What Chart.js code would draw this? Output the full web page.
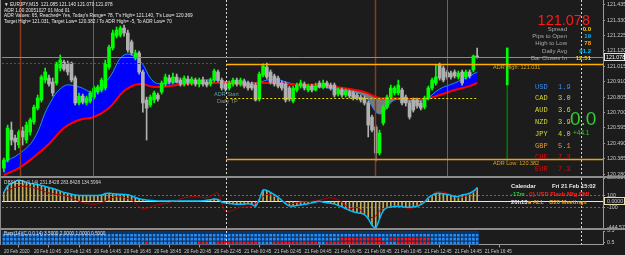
<!DOCTYPE html>
<html>
<head>
<meta charset="utf-8">
<script src="https://cdn.jsdelivr.net/npm/chart.js@4.4.1/dist/chart.umd.min.js"></script>
<style>
  body { margin: 0; background: #1c1c1c; }
  #wrap { position: relative; width: 625px; height: 255px; overflow: hidden; background: #1c1c1c; font-family: 'Liberation Sans', Arial, sans-serif; }
  canvas { position: absolute; left: 0; }
  .t { position: absolute; white-space: nowrap; line-height: 1; }
  .hdr { left: 4px; font-size: 4.7px; color: #e8e8e8; }
  .lbl { font-size: 6px; color: #a8a8a8; }
  .val { font-size: 6px; font-weight: bold; }
  .cur { font-family: 'Liberation Mono', monospace; font-size: 7px; }
  .cal { font-size: 5.8px; font-weight: bold; }
  .sep { position: absolute; left: 0; width: 625px; height: 2px; background: #8c8c8c; }
</style>
</head>
<body>
<div id="wrap">
  <canvas id="main" width="625" height="176" style="top:0"></canvas>
  <canvas id="osc" width="625" height="50" style="top:178px"></canvas>
  <canvas id="bars" width="625" height="25" style="top:230px"></canvas>
  <div class="sep" style="top:176px"></div>
  <div class="sep" style="top:228px"></div>
  <div style="position:absolute;left:0;top:0;width:1px;height:245px;background:#8c8c8c"></div>

  <div class="t hdr" style="top:3px">&#9660; EURJPY,M15&nbsp; 121.085 121.140 121.070 121.078</div>
  <div class="t hdr" style="top:8.5px">ADR 1.00 20051027 01 Mod 01</div>
  <div class="t hdr" style="top:14px">ADR Values: 65, Reached= Yes, Today's Range= 78, T's High= 121.140, T's Low= 120.369</div>
  <div class="t hdr" style="top:19.5px">Target High= 121.031, Target Low= 120.382 / To ADR High= -5, To ADR Low= 70</div>

  <div class="t" style="left:214px;top:92px;font-size:5.5px;color:#5aa0a8">ADR Start</div>
  <div class="t" style="left:217px;top:98.5px;font-size:5.5px;color:#8c8c8c">Daily TP</div>
  <div class="t" style="left:493px;top:65px;font-size:5.5px;color:#e0a020">ADR High: 121.031</div>
  <div class="t" style="left:493px;top:160.5px;font-size:5.5px;color:#e0a020">ADR Low: 120.382</div>

  <div class="t" style="right:35px;top:13px;font-size:14.5px;color:#ff1a1a">121.078</div>
  <div id="info"></div>
  <div id="strength"></div>
  <div class="t" style="left:570px;top:109px;font-size:19px;color:#32cd32">0.0</div>
  <div class="t" style="left:573px;top:130px;font-size:6.5px;color:#32cd32">+44.1</div>

  <div class="t" style="left:4px;top:181px;font-size:4.7px;color:#d0d0d0">DBS(CCI) (1,14) 231.8428 283.8428 134.5994</div>
  <div class="t cal" style="left:511px;top:184px;color:#e8e8e8">Calendar</div>
  <div class="t cal" style="left:552px;top:184px;color:#e8e8e8">Fri 21 Feb 15:02</div>
  <div class="t cal" style="left:511px;top:192px;color:#2ecc40">-17m</div>
  <div class="t cal" style="left:529px;top:192px;color:#ff2020">(!) USD Flash Mfg PMI</div>
  <div class="t cal" style="left:511px;top:200px;color:#e8e8e8">20h13</div>
  <div class="t cal" style="left:528px;top:200px;color:#f0a020">&#9632; ALL&nbsp;&nbsp; G20 Meetings</div>

  <div class="t" style="left:4px;top:232px;font-size:4.7px;color:#e0e0e0">Bars(14)(C,0,0,14) 3.5000 2.0000 1.0000 0.5000</div>
</div>

<script>
Chart.defaults.font.family = "'Liberation Sans', Arial, sans-serif";

// EURJPY M15 candles (bar 0 = 20 Feb 2020, last bar = 21 Feb afternoon)
var opens = [120.321,120.376,120.580,120.526,120.478,120.574,120.512,120.567,120.635,120.730,
  120.785,120.921,120.935,120.908,120.901,121.003,121.044,121.031,121.037,120.935,
  120.765,120.812,120.765,120.778,120.805,120.840,120.853,120.867,121.010,121.140,
  121.221,121.228,121.276,121.242,121.181,121.071,121.106,120.976,120.785,120.751,
  120.785,120.819,120.840,120.894,120.935,120.908,120.942,120.921,120.894,120.928,
  120.901,120.921,120.894,120.921,120.908,120.894,120.921,120.976,120.921,120.894,
  120.867,120.894,120.921,120.894,120.915,120.901,120.894,120.887,120.792,120.955,
  121.010,120.976,120.949,120.935,120.901,120.894,120.867,120.778,120.853,120.880,
  120.894,120.853,120.880,120.853,120.901,120.874,120.901,120.887,120.887,120.826,
  120.853,120.819,120.840,120.833,120.819,120.805,120.799,120.765,120.669,120.601,
  120.424,120.628,120.737,120.805,120.833,120.833,120.853,120.805,120.765,120.785,
  120.785,120.765,120.737,120.799,120.867,120.901,121.024,121.003,120.976,120.969,
  120.976,120.942,120.976,120.942,120.976,120.990,121.085];
var highs = [120.389,120.614,120.635,120.546,120.580,120.601,120.635,120.662,120.751,120.819,
  120.955,121.003,120.955,120.935,121.044,121.092,121.058,121.051,121.044,120.949,
  120.833,120.826,120.812,120.846,120.880,120.887,120.935,121.058,121.160,121.262,
  121.283,121.290,121.296,121.262,121.194,121.126,121.119,120.990,120.805,120.819,
  120.846,120.833,120.915,120.962,120.955,120.969,120.962,120.935,120.949,120.949,
  120.942,120.935,120.935,120.942,120.921,120.935,120.996,120.990,120.935,120.908,
  120.915,120.935,120.935,120.935,120.928,120.915,120.908,120.901,120.976,121.031,
  121.037,120.990,120.962,120.949,120.915,120.908,120.880,120.880,120.901,120.921,
  120.908,120.894,120.894,120.901,120.915,120.921,120.915,120.901,120.901,120.867,
  120.867,120.860,120.853,120.846,120.833,120.819,120.812,120.778,120.683,120.614,
  120.580,120.751,120.819,120.887,120.880,120.921,120.867,120.819,120.778,120.799,
  120.799,120.778,120.812,120.880,120.935,121.024,121.037,121.017,120.990,120.983,
  120.990,120.983,120.990,120.990,120.990,121.092,121.140];
var lows = [120.294,120.362,120.478,120.444,120.458,120.478,120.492,120.546,120.621,120.717,
  120.771,120.901,120.880,120.812,120.887,120.983,120.983,120.955,120.908,120.751,
  120.751,120.758,120.751,120.765,120.792,120.826,120.840,120.853,120.996,121.126,
  121.208,121.215,121.221,121.112,121.092,121.058,120.962,120.703,120.512,120.737,
  120.765,120.778,120.826,120.880,120.894,120.894,120.901,120.880,120.880,120.887,
  120.887,120.880,120.874,120.880,120.874,120.880,120.908,120.908,120.853,120.846,
  120.853,120.880,120.880,120.880,120.867,120.853,120.853,120.778,120.778,120.942,
  120.928,120.894,120.880,120.867,120.853,120.771,120.778,120.765,120.840,120.867,
  120.853,120.840,120.840,120.846,120.867,120.860,120.867,120.853,120.805,120.812,
  120.805,120.805,120.799,120.785,120.785,120.771,120.751,120.533,120.567,120.369,
  120.410,120.614,120.724,120.792,120.819,120.819,120.751,120.744,120.655,120.703,
  120.730,120.717,120.724,120.785,120.853,120.887,120.921,120.908,120.928,120.928,
  120.935,120.928,120.887,120.928,120.935,120.976,121.070];
var closes = [120.376,120.594,120.512,120.499,120.567,120.533,120.614,120.649,120.737,120.799,
  120.942,120.976,120.894,120.833,121.037,121.058,120.996,120.976,120.921,120.765,
  120.812,120.771,120.799,120.833,120.867,120.874,120.921,121.037,121.146,121.242,
  121.262,121.276,121.242,121.126,121.106,121.106,120.976,120.765,120.730,120.805,
  120.833,120.792,120.901,120.942,120.908,120.942,120.908,120.894,120.935,120.901,
  120.928,120.894,120.921,120.894,120.887,120.921,120.983,120.921,120.867,120.860,
  120.901,120.921,120.894,120.921,120.880,120.867,120.867,120.785,120.962,121.017,
  120.942,120.908,120.894,120.880,120.867,120.785,120.792,120.867,120.887,120.901,
  120.867,120.880,120.853,120.880,120.874,120.901,120.880,120.867,120.819,120.853,
  120.819,120.846,120.812,120.799,120.799,120.785,120.765,120.614,120.580,120.424,
  120.560,120.737,120.805,120.867,120.867,120.887,120.765,120.765,120.669,120.717,
  120.744,120.730,120.799,120.867,120.921,120.942,120.935,120.921,120.942,120.942,
  120.949,120.969,120.901,120.976,120.949,121.085,121.078];

// moving averages, read at every 4th bar
var maBars = [0,4,8,12,16,20,24,28,32,36,40,44,48,52,56,60,64,68,72,76,80,84,88,92,96,100,104,108,112,116,120,124,126];
var fastMA = [120.362,120.417,120.519,120.751,120.880,120.874,120.840,120.935,121.092,121.058,120.908,120.901,120.915,120.921,120.921,120.908,120.901,120.908,120.928,120.901,120.880,120.874,120.860,120.840,120.812,120.690,120.785,120.771,120.785,120.860,120.901,120.949,120.976];
var slowMA = [120.274,120.321,120.396,120.485,120.594,120.649,120.669,120.730,120.846,120.894,120.874,120.880,120.894,120.901,120.901,120.901,120.894,120.901,120.901,120.894,120.887,120.887,120.874,120.860,120.840,120.799,120.799,120.792,120.792,120.819,120.853,120.880,120.901];

var bid = 121.078, dayOpen = 120.888, dayHigh = 121.140, dayLow = 120.369;
var adrHigh = 121.031, adrLow = 120.382, adrStart = 120.799, prevLevel = 121.037;
var priceTicks = [121.435,121.330,121.225,121.120,121.015,120.910,120.805,120.700,120.595,120.490,120.385,120.280];

// oscillator sub-window
var cci = [150,257,300,330,350,340,320,300,290,280,
  265,250,230,215,195,170,150,135,120,105,
  98,97,97,97,96,97,105,130,135,125,
  121,118,115,112,90,65,42,30,20,15,
  10,5,5,4,6,5,3,5,6,4,
  5,5,6,8,18,28,38,30,-10,-25,
  -36,-42,-48,-50,-45,-40,-50,-80,30,190,
  182,150,110,70,15,-40,-75,-78,-68,-60,
  -50,-40,-25,-10,0,-10,-22,-32,-42,-70,
  -90,-120,-150,-172,-188,-200,-220,-290,-400,-444,
  -290,-160,-105,-95,-85,-80,-88,-98,-100,-92,
  -82,-55,-10,60,100,130,135,125,115,100,
  85,82,105,118,135,170,226];
var slowBars = [0,1,4,8,12,17,21,24,26,30,34,37,40,44,48,51,54,57,59,63,66,68,70,73,76,79,82,84,87,90,92,94,96,97,99,100,102,106,108,111,114,115,118,121,124,126];
var slowOsc = [115,180,250,226,138,80,-20,-50,-20,80,20,-127,-70,-20,60,80,60,138,-168,-100,-80,20,115,60,-38,-10,0,20,60,-10,-127,-100,-215,-274,-245,-156,-100,-80,-127,-38,97,160,138,60,115,198];
var oscTicks = [389.5172, 100, 0, -100, -444.5797];

// signal grid: runs of red cells per row (row 0 = bottom)
var redRuns = [
  [[38,38],[52,54],[57,67],[72,83],[86,101],[105,113]],
  [[90,100],[103,113]],
  []
];

var tickLabels = ['20 Feb 2020','20 Feb 10:45','20 Feb 12:45','20 Feb 14:45','20 Feb 16:45','20 Feb 18:45',
  '20 Feb 20:45','20 Feb 22:45','21 Feb 00:45','21 Feb 02:45','21 Feb 04:45','21 Feb 06:45',
  '21 Feb 08:45','21 Feb 10:45','21 Feb 12:45','21 Feb 14:45','21 Feb 16:45'];

var infoNames = ['Spread','Pips to Open','High to Low','Daily Avg','Bar Closes In'];
var infoValues = ['0.0','19','78','91.2','12:51'];
var currencies = ['USD','CAD','AUD','NZD','JPY','GBP','CHF','EUR'];
var strength = [1.9, 3.0, 3.6, 3.9, 4.0, 5.1, 7.3, 7.3];

// ---- layout constants
var nSlots = 160, rangeSlot = 134;
var slots = [];
for (var i = 0; i < nSlots; i++) slots.push(i);
var nBars = closes.length;
var vDashed = [59.2, 153.6];

// text panels
var infoColors = ['#ffd700','#00bfff','#ffa500','#00bfff','#ffd700'];
var info = document.getElementById('info');
infoNames.forEach(function (n, k) {
  var top = 26 + k * 7.2;
  info.innerHTML += '<div class="t lbl" style="right:58px;top:' + top + 'px">' + n + '</div>' +
    '<div class="t val" style="right:34px;top:' + top + 'px;color:' + infoColors[k] + '">' + infoValues[k] + '</div>';
});
var curColors = ['#3c8cf0','#d8d830','#d8d830','#d8d830','#d8d830','#e09a30','#d01010','#d01010'];
var st = document.getElementById('strength');
currencies.forEach(function (c, k) {
  var top = 83.5 + k * 11.8;
  st.innerHTML += '<div class="t cur" style="left:535px;top:' + top + 'px;color:' + curColors[k] + '">' + c + '</div>' +
    '<div class="t cur" style="left:558px;top:' + top + 'px;color:' + curColors[k] + '">' + strength[k].toFixed(1) + '</div>';
});

// ---- helpers
function rightAxis(s) { s.width = 22; s.paddingTop = 0; s.paddingBottom = 0; }
var axisTicks = { color: '#c8c8c8', font: { size: 5.3 }, padding: 2 };
var axisGrid = { drawOnChartArea: false, tickLength: 2, color: '#9a9a9a' };

function hline(chart, value, from, to, color, width, dash) {
  var ctx = chart.ctx, a = chart.chartArea, x = chart.scales.x, y = chart.scales.y;
  var yy = Math.round(y.getPixelForValue(value)) + 0.5;
  ctx.save();
  ctx.strokeStyle = color; ctx.lineWidth = width; ctx.setLineDash(dash || []);
  ctx.beginPath();
  ctx.moveTo(from == null ? a.left : x.getPixelForValue(from), yy);
  ctx.lineTo(to == null ? a.right : x.getPixelForValue(to), yy);
  ctx.stroke();
  ctx.restore();
}
function vline(chart, bar, color, width, dash) {
  var ctx = chart.ctx, a = chart.chartArea;
  var xx = Math.round(chart.scales.x.getPixelForValue(bar)) + 0.5;
  ctx.save();
  ctx.strokeStyle = color; ctx.lineWidth = width; ctx.setLineDash(dash || []);
  ctx.beginPath(); ctx.moveTo(xx, a.top); ctx.lineTo(xx, a.bottom); ctx.stroke();
  ctx.restore();
}
function axisBox(chart, value, text) {
  var ctx = chart.ctx, y = chart.scales.y;
  var yy = Math.round(y.getPixelForValue(value));
  ctx.save();
  ctx.fillStyle = '#1c1c1c';
  ctx.fillRect(604, yy - 4, 20, 8);
  ctx.strokeStyle = '#e0e0e0'; ctx.lineWidth = 1;
  ctx.strokeRect(604.5, yy - 3.5, 20, 7);
  ctx.fillStyle = '#ffffff'; ctx.font = "5.3px 'Liberation Sans'"; ctx.textBaseline = 'middle';
  ctx.fillText(text, 606, yy + 0.5);
  ctx.restore();
}

// ---- main price window
var bull = '#00ff00', bear = '#b0b0b0';
var candleColors = slots.map(function (i) { return i < nBars && closes[i] >= opens[i] ? bull : bear; });

new Chart(document.getElementById('main'), {
  type: 'bar',
  data: {
    labels: slots,
    datasets: [
      { type: 'line', data: maBars.map(function (b, k) { return { x: b, y: slowMA[k] }; }),
        borderColor: '#ff0000', borderWidth: 2, pointRadius: 0, tension: 0.4, fill: false, order: 3 },
      { type: 'line', data: maBars.map(function (b, k) { return { x: b, y: fastMA[k] }; }),
        borderColor: '#1e90ff', borderWidth: 1, pointRadius: 0, tension: 0.4,
        fill: { target: 0, above: '#0000ff', below: '#7a7a7a' }, order: 4 },
      { data: slots.map(function (i) { return i < nBars ? [lows[i], highs[i]] : null; }),
        backgroundColor: candleColors, barThickness: 1, grouped: false, order: 1 },
      { data: slots.map(function (i) { return i < nBars ? [opens[i], closes[i]] : null; }),
        backgroundColor: candleColors, barThickness: 3, minBarLength: 1, grouped: false, order: 0 },
      { data: slots.map(function (i) { return i === rangeSlot ? [dayLow, dayHigh] : null; }),
        backgroundColor: '#0a6e0a', barThickness: 1, grouped: false, order: 2 },
      { data: slots.map(function (i) { return i === rangeSlot ? [dayOpen, dayHigh] : null; }),
        backgroundColor: '#00ff00', barThickness: 2, grouped: false, order: 1 }
    ]
  },
  options: {
    responsive: false,
    animation: false,
    layout: { padding: { left: 2, right: 0, top: 0, bottom: 0 } },
    plugins: { legend: { display: false }, tooltip: { enabled: false } },
    scales: {
      x: { display: false },
      y: {
        position: 'right', min: 120.267, max: 121.467,
        afterBuildTicks: function (s) { s.ticks = priceTicks.map(function (v) { return { value: v }; }); },
        afterFit: rightAxis,
        ticks: Object.assign({ callback: function (v) { return v.toFixed(3); } }, axisTicks),
        grid: axisGrid,
        border: { color: '#9a9a9a' }
      }
    }
  },
  plugins: [{
    id: 'priceLines',
    afterDatasetsDraw: function (chart) {
      vline(chart, 4.3, '#8b3a1e', 1.5);
      vline(chart, 98.7, '#8b3a1e', 1.5);
      vline(chart, 23.7, '#3f6f8f', 1);
      vline(chart, 118.1, '#3f6f8f', 1);
      vDashed.forEach(function (b) { vline(chart, b, '#d8d8d8', 1, [2, 2]); });
      hline(chart, bid, null, null, '#8c8c8c', 1);
      hline(chart, prevLevel, null, 57, '#b02828', 1, [2, 2]);
      hline(chart, adrHigh, 59.2, null, '#ffb000', 1.5);
      hline(chart, adrLow, 59.2, null, '#e8a020', 1.5);
      hline(chart, adrStart, 59.2, 126, '#e8d800', 1, [2, 2]);
      axisBox(chart, bid, bid.toFixed(3));
    }
  }]
});

// ---- oscillator window
new Chart(document.getElementById('osc'), {
  type: 'bar',
  data: {
    labels: slots,
    datasets: [
      { data: cci, backgroundColor: '#c2ae5a', barThickness: 1, order: 3 },
      { type: 'line', data: slowBars.map(function (b, k) { return { x: b, y: slowOsc[k] }; }),
        borderColor: '#b00000', borderWidth: 1, pointRadius: 0, tension: 0.3, order: 2 },
      { type: 'line', data: cci, borderColor: '#00bfff', borderWidth: 1.5, pointRadius: 0, tension: 0.3, order: 1 }
    ]
  },
  options: {
    responsive: false,
    animation: false,
    layout: { padding: { left: 2, right: 0, top: 0, bottom: 0 } },
    plugins: { legend: { display: false }, tooltip: { enabled: false } },
    scales: {
      x: { display: false },
      y: {
        position: 'right', min: -444.5797, max: 389.5172,
        afterBuildTicks: function (s) { s.ticks = oscTicks.map(function (v) { return { value: v }; }); },
        afterFit: rightAxis,
        ticks: Object.assign({ callback: function (v) { return v === 0 ? '0.0000' : (Math.abs(v) === 100 ? String(v) : v.toFixed(4)); } }, axisTicks),
        grid: axisGrid,
        border: { color: '#9a9a9a' }
      }
    }
  },
  plugins: [{
    id: 'oscLines',
    beforeDatasetsDraw: function (chart) {
      hline(chart, 100, null, null, '#6a6a6a', 1, [2, 2]);
      hline(chart, -100, null, null, '#6a6a6a', 1, [2, 2]);
      hline(chart, 0, null, null, '#f2eab8', 1);
    },
    afterDatasetsDraw: function (chart) {
      vDashed.forEach(function (b) { vline(chart, b, '#d8d8d8', 1, [2, 2]); });
      var yy = Math.round(chart.scales.y.getPixelForValue(0));
      chart.ctx.save();
      chart.ctx.strokeStyle = '#e8e0b0'; chart.ctx.lineWidth = 1;
      chart.ctx.strokeRect(604.5, yy - 3.5, 20, 7);
      chart.ctx.restore();
    }
  }]
});

// ---- signal grid window with time axis
function isRed(row, i) {
  return redRuns[row].some(function (r) { return i >= r[0] && i <= r[1]; });
}
var gridSets = redRuns.map(function (_, row) {
  return {
    data: slots.map(function (i) { return i < nBars ? 1 : null; }),
    backgroundColor: slots.map(function (i) { return isRed(row, i) ? '#ff1414' : '#2a8cf0'; }),
    borderColor: '#0c3466', borderWidth: { top: 1, bottom: 0, left: 0, right: 0 }, borderSkipped: false,
    barPercentage: 1, categoryPercentage: 0.78
  };
});

new Chart(document.getElementById('bars'), {
  type: 'bar',
  data: { labels: slots, datasets: gridSets },
  options: {
    responsive: false,
    animation: false,
    layout: { padding: { left: 2, right: 0, top: 1, bottom: 0 } },
    plugins: { legend: { display: false }, tooltip: { enabled: false } },
    scales: {
      x: {
        stacked: true,
        afterBuildTicks: function (s) { s.ticks = tickLabels.map(function (_, k) { return { value: k * 8 }; }); },
        afterFit: function (s) { s.paddingLeft = 0; s.paddingRight = 0; },
        ticks: { color: '#c8c8c8', font: { size: 4.6 }, padding: 1, align: 'start', autoSkip: false, maxRotation: 0,
          callback: function (v, k) { return tickLabels[k]; } },
        grid: { drawOnChartArea: false, tickLength: 3, color: '#9a9a9a' },
        border: { color: '#9a9a9a' }
      },
      y: {
        stacked: true, position: 'right', min: 0, max: 3.5,
        afterBuildTicks: function (s) { s.ticks = [{ value: 3.5 }, { value: 0.5 }]; },
        afterFit: rightAxis,
        ticks: Object.assign({ callback: function (v) { return v.toFixed(1); } }, axisTicks),
        grid: axisGrid,
        border: { color: '#9a9a9a' }
      }
    }
  },
  plugins: [{
    id: 'gridLines',
    beforeDatasetsDraw: function (chart) {
      var a = chart.chartArea, x = chart.scales.x;
      chart.ctx.save();
      chart.ctx.fillStyle = '#0c3466';
      chart.ctx.fillRect(a.left, a.top, x.getPixelForValue(nBars - 0.5) - a.left, a.bottom - a.top);
      chart.ctx.restore();
    },
    afterDatasetsDraw: function (chart) {
      vDashed.forEach(function (b) { vline(chart, b, '#d8d8d8', 1, [2, 2]); });
    }
  }]
});
</script>
</body>
</html>
